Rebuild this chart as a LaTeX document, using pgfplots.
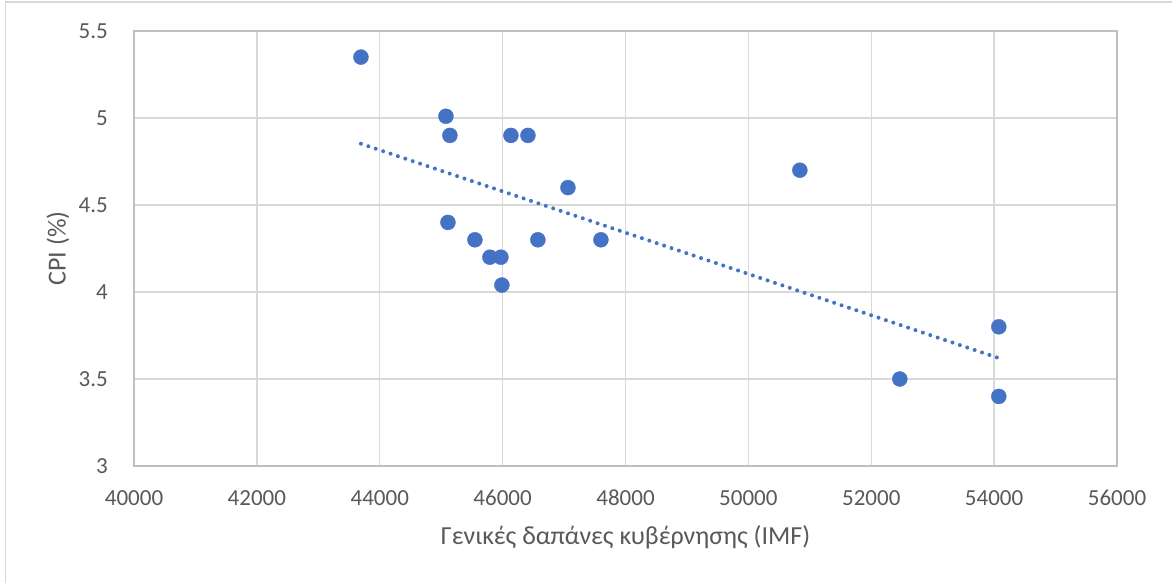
\documentclass[border=0pt]{standalone}
\usepackage{pgfplots}
\pgfplotsset{compat=1.18}
\usepackage{fontspec}
\setmainfont{Carlito}

\definecolor{dotblue}{HTML}{4472C4}
\definecolor{gridgray}{HTML}{D9D9D9}
\definecolor{axisgray}{HTML}{BFBFBF}
\definecolor{textgray}{HTML}{595959}

% Government expenditure (IMF) vs CPI (%)
\pgfplotstableread{
x      y
43694  5.35
45077  5.01
45142  4.90
46135  4.90
46412  4.90
47063  4.60
50838  4.70
45110  4.40
45549  4.30
45793  4.20
45972  4.20
45988  4.04
46574  4.30
47600  4.30
52465  3.50
54076  3.80
54076  3.40
}\cpidata

\begin{document}
\begin{tikzpicture}[x=1pt,y=1pt]
\useasboundingbox (0,0) rectangle (1172,583);
% chart area frame
\draw[gridgray, line width=1.5pt] (5.5,-2) -- (5.5,581) -- (1174,581);
\begin{axis}[
  at={(134pt,117pt)}, anchor=south west,
  width=983pt, height=435pt, scale only axis,
  xmin=40000, xmax=56000, ymin=3, ymax=5.5,
  xtick={40000,42000,...,56000},
  ytick={3,3.5,4,4.5,5,5.5},
  scaled ticks=false,
  /pgf/number format/.cd, assume math mode=true, set thousands separator={}, fixed,
  /pgfplots/.cd,
  grid=major,
  major grid style={gridgray, line width=1.3pt},
  axis line style={axisgray, line width=1.3pt},
  major tick length=0pt,
  tick label style={font=\fontsize{23}{27}\selectfont, text=textgray, inner sep=0pt},
  yticklabel style={anchor=east, xshift=-26pt},
  xticklabel style={anchor=north, yshift=-24pt},
  label style={font=\fontsize{26}{30}\selectfont, text=textgray},
  xlabel={Γενικές δαπάνες κυβέρνησης (IMF)},
  ylabel={CPI (\%)},
  xlabel style={at={(axis description cs:0.5,-0.1632)}, anchor=center},
  ylabel style={at={(axis description cs:-0.0773,0.5)}, anchor=center},
  clip=false,
]
\addplot[only marks, mark=*, mark size=7.5pt,
  mark options={draw=dotblue, fill=dotblue}] table[x=x, y=y] {\cpidata};
% linear trend line
\addplot[dotblue, line width=4pt, line cap=round,
  dash pattern=on 0pt off 7.8pt] coordinates {(43694,4.852) (54076,3.620)};
\end{axis}
\end{tikzpicture}
\end{document}
